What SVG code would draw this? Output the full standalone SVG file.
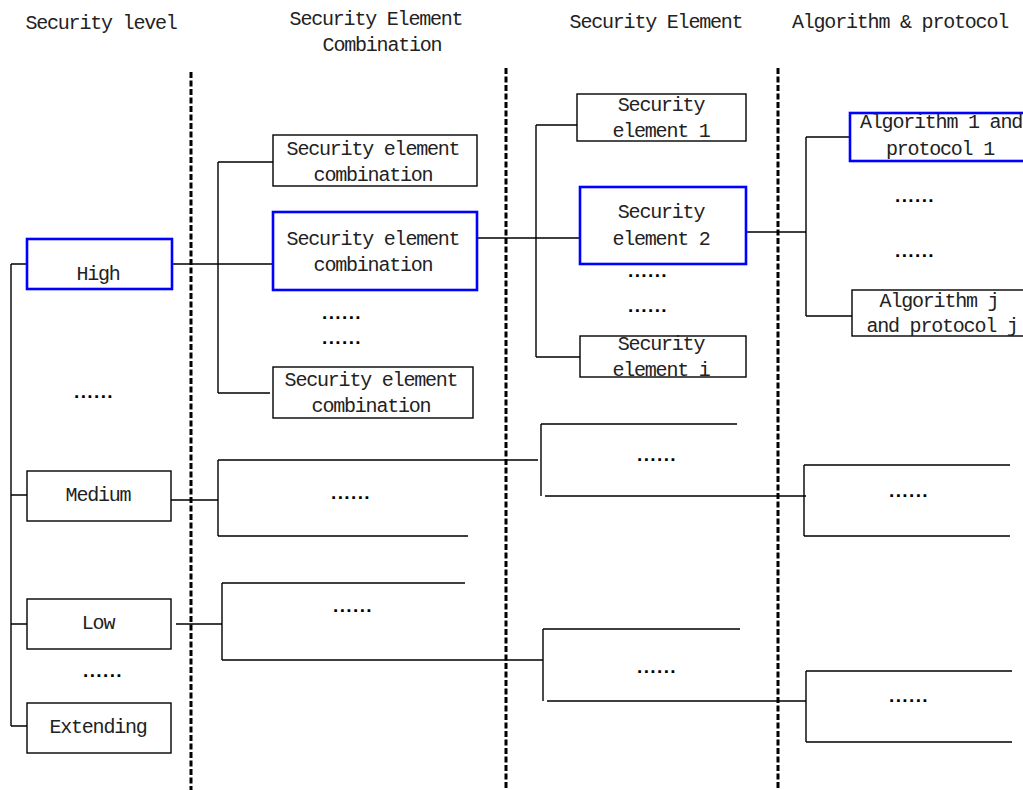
<svg xmlns="http://www.w3.org/2000/svg" width="1023" height="790" viewBox="0 0 1023 790">
  <style>
    .t { font-family: "Liberation Mono", "DejaVu Sans Mono", monospace; font-size: 20px; letter-spacing: -1.2px; fill: #222; text-anchor: middle; }
    .dots { font-family: "Liberation Sans", Arial, sans-serif; font-size: 19px; font-weight: bold; letter-spacing: 1.4px; fill: #000; text-anchor: middle; }
    .box { fill: #fff; stroke: #000; stroke-width: 1.4; }
    .hl { fill: #fff; stroke: #0000ff; stroke-width: 2.6; }
    .ln { fill: none; stroke: #000; stroke-width: 1.4; }
    .sep { stroke: #000; stroke-width: 3; stroke-dasharray: 6 2.5; }
  </style>

  <!-- column headings -->
  <g id="headings">
    <text class="t" x="101" y="29">Security level</text>
    <text class="t" x="376" y="25">Security Element</text>
    <text class="t" x="382" y="51">Combination</text>
    <text class="t" x="656" y="28">Security Element</text>
    <text class="t" x="900" y="28">Algorithm &amp; protocol</text>
  </g>

  <!-- column separators -->
  <g id="separators">
    <line class="sep" x1="191" y1="72" x2="191" y2="790"/>
    <line class="sep" x1="506" y1="68" x2="506" y2="790"/>
    <line class="sep" x1="778" y1="68" x2="778" y2="790"/>
  </g>

  <!-- connectors -->
  <g id="connectors">
    <!-- level trunk -->
    <path class="ln" d="M11 264 V726 M11 264 H27 M11 495 H27 M11 624 H27 M11 726 H27"/>
    <!-- High -> combinations -->
    <path class="ln" d="M172 264 H273 M218 162 V393 M218 162 H273 M218 393 H270"/>
    <!-- combination -> elements -->
    <path class="ln" d="M477 238 H580 M536 125 V357 M536 125 H577 M536 357 H580"/>
    <!-- element 2 -> algorithms -->
    <path class="ln" d="M746 232 H806 M806 137 V316 M806 137 H850 M806 316 H852"/>
    <!-- Medium branch -->
    <path class="ln" d="M171 500 H218 M218 460 V536 M218 460 H538 M218 536 H468"/>
    <path class="ln" d="M541 424 V496 M541 424 H737 M545 496 H806"/>
    <path class="ln" d="M804 465 V536 M804 465 H1010 M804 536 H1010"/>
    <!-- Low branch -->
    <path class="ln" d="M176 624 H222 M222 583 V660 M222 583 H465 M222 660 H543"/>
    <path class="ln" d="M543 629 V701 M543 629 H740 M547 701 H806"/>
    <path class="ln" d="M806 671 V742 M806 671 H1012 M806 742 H1012"/>
  </g>

  <!-- security levels -->
  <g id="level-high">
    <rect class="hl" x="27" y="239" width="145" height="50"/>
    <text class="t" x="98" y="280">High</text>
  </g>
  <g id="level-more">
    <text class="dots" x="94" y="398">......</text>
  </g>
  <g id="level-medium">
    <rect class="box" x="27" y="471" width="144" height="50"/>
    <text class="t" x="98" y="501">Medium</text>
  </g>
  <g id="level-low">
    <rect class="box" x="27" y="599" width="144" height="50"/>
    <text class="t" x="98" y="629">Low</text>
  </g>
  <g id="level-more-2">
    <text class="dots" x="103" y="677">......</text>
  </g>
  <g id="level-extending">
    <rect class="box" x="27" y="703" width="144" height="50"/>
    <text class="t" x="98" y="733">Extending</text>
  </g>

  <!-- security element combinations -->
  <g id="combination-1">
    <rect class="box" x="273" y="135" width="204" height="51"/>
    <text class="t" x="373" y="155">Security element</text>
    <text class="t" x="373" y="181">combination</text>
  </g>
  <g id="combination-2">
    <rect class="hl" x="273" y="212" width="204" height="78"/>
    <text class="t" x="373" y="245">Security element</text>
    <text class="t" x="373" y="271">combination</text>
  </g>
  <g id="combination-more">
    <text class="dots" x="342" y="319">......</text>
    <text class="dots" x="342" y="344">......</text>
  </g>
  <g id="combination-n">
    <rect class="box" x="273" y="367" width="200" height="51"/>
    <text class="t" x="371" y="386">Security element</text>
    <text class="t" x="371" y="412">combination</text>
  </g>
  <g id="combination-medium">
    <text class="dots" x="351" y="499">......</text>
  </g>
  <g id="combination-low">
    <text class="dots" x="353" y="612">......</text>
  </g>

  <!-- security elements -->
  <g id="element-1">
    <rect class="box" x="577" y="94" width="169" height="47"/>
    <text class="t" x="661" y="111">Security</text>
    <text class="t" x="661" y="137">element 1</text>
  </g>
  <g id="element-2">
    <rect class="hl" x="580" y="187" width="166" height="77"/>
    <text class="t" x="661" y="218">Security</text>
    <text class="t" x="661" y="245">element 2</text>
  </g>
  <g id="element-more">
    <text class="dots" x="648" y="277">......</text>
    <text class="dots" x="648" y="312">......</text>
  </g>
  <g id="element-i">
    <rect class="box" x="580" y="336" width="166" height="41"/>
    <text class="t" x="661" y="350">Security</text>
    <text class="t" x="661" y="376">element i</text>
  </g>
  <g id="element-medium">
    <text class="dots" x="657" y="461">......</text>
  </g>
  <g id="element-low">
    <text class="dots" x="657" y="673">......</text>
  </g>

  <!-- algorithms and protocols -->
  <g id="algorithm-1">
    <rect class="hl" x="850" y="113" width="190" height="48"/>
    <text class="t" x="941" y="128">Algorithm 1 and</text>
    <text class="t" x="940" y="155">protocol 1</text>
  </g>
  <g id="algorithm-more">
    <text class="dots" x="915" y="202">......</text>
    <text class="dots" x="915" y="257">......</text>
  </g>
  <g id="algorithm-j">
    <rect class="box" x="852" y="290" width="190" height="46"/>
    <text class="t" x="939" y="307">Algorithm j</text>
    <text class="t" x="942" y="332">and protocol j</text>
  </g>
  <g id="algorithm-medium">
    <text class="dots" x="909" y="497">......</text>
  </g>
  <g id="algorithm-low">
    <text class="dots" x="909" y="702">......</text>
  </g>
</svg>
